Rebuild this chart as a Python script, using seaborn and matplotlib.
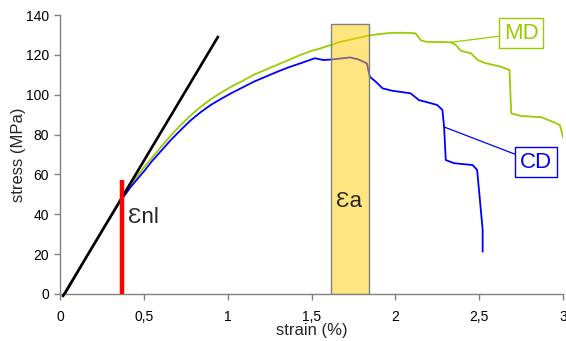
import matplotlib
matplotlib.use("Agg")
import matplotlib.pyplot as plt
from matplotlib.patches import Rectangle
import pandas as pd
import seaborn as sns

# Tensile curves: strain (%) vs stress (MPa)
md_strain = [0.03, 0.15, 0.25, 0.35, 0.42, 0.50, 0.55, 0.60, 0.66, 0.72, 0.78,
             0.84, 0.90, 0.96, 1.02, 1.09, 1.155, 1.225, 1.295, 1.365, 1.435, 1.50,
             1.555, 1.615, 1.675, 1.75, 1.83, 1.90, 1.97, 2.03, 2.08, 2.12, 2.15,
             2.18, 2.33, 2.36, 2.39, 2.45, 2.49, 2.53, 2.63, 2.68, 2.69, 2.75,
             2.87, 2.95, 2.98, 3.00]
md_stress = [0.0, 17.4, 31.4, 45.4, 54.5, 63.5, 68.5, 73.5, 79.5, 84.8, 89.7,
             94.0, 97.8, 101.0, 104.0, 107.0, 110.0, 112.5, 115.0, 117.5, 120.0, 122.0,
             123.3, 125.0, 126.6, 128.0, 129.5, 130.4, 131.0, 131.1, 131.0, 130.8, 127.4,
             126.6, 126.3, 125.0, 122.0, 120.8, 117.4, 116.0, 114.0, 112.4, 90.7, 89.3,
             88.7, 86.0, 84.8, 78.6]

cd_strain = [0.03, 0.15, 0.25, 0.35, 0.42, 0.50, 0.55, 0.60, 0.66, 0.72, 0.78,
             0.84, 0.90, 0.96, 1.02, 1.09, 1.155, 1.225, 1.295, 1.365, 1.435, 1.52,
             1.57, 1.61, 1.73, 1.78, 1.83, 1.847, 1.883, 1.923, 1.98, 2.09, 2.14,
             2.19, 2.25, 2.28, 2.29, 2.30, 2.35, 2.46, 2.487, 2.50, 2.52, 2.52]
cd_stress = [0.0, 17.4, 31.4, 45.4, 53.5, 61.5, 66.8, 71.5, 77.2, 82.3, 87.2,
             91.3, 94.9, 97.9, 100.7, 103.7, 106.5, 109.0, 111.5, 113.8, 115.8, 118.3,
             117.4, 117.6, 118.7, 117.7, 115.7, 109.0, 106.5, 103.2, 102.0, 100.7, 97.3,
             96.2, 94.8, 92.3, 83.9, 67.2, 65.6, 64.7, 62.2, 50.5, 32.1, 21.2]

# Linear elastic fit
fit_strain = [0.015, 0.945]
fit_stress = [-1.5, 129.5]

# Onset of non-linearity and the analysed strain window
eps_nl = 0.372
eps_nl_top = 57.0
eps_a_range = (1.618, 1.843)
eps_a_top = 135.3

x_ticks = [0, 0.5, 1, 1.5, 2, 2.5, 3]
x_tick_labels = ["0", "0,5", "1", "1,5", "2", "2,5", "3"]
y_ticks = [0, 20, 40, 60, 80, 100, 120, 140]

MD_COLOR = "#99CC00"
CD_COLOR = "#0000FF"

sns.set_style("white")
plt.rcParams["font.family"] = ["Liberation Sans", "DejaVu Sans"]

fig = plt.figure(figsize=(5.66, 3.41), dpi=100)
ax = fig.add_axes([0.106, 0.138, 0.889, 0.818])

md = pd.DataFrame({"strain": md_strain, "stress": md_stress})
cd = pd.DataFrame({"strain": cd_strain, "stress": cd_stress})

sns.lineplot(data=md, x="strain", y="stress", sort=False, estimator=None,
             color=MD_COLOR, lw=1.3, ax=ax, zorder=3)
sns.lineplot(data=cd, x="strain", y="stress", sort=False, estimator=None,
             color=CD_COLOR, lw=1.3, ax=ax, zorder=3)
ax.plot(fit_strain, fit_stress, color="black", lw=1.9, zorder=4, clip_on=False,
        solid_capstyle="butt")

ax.plot([eps_nl, eps_nl], [0, eps_nl_top], color="#FF0000", lw=3.2, zorder=5,
        solid_capstyle="butt")

ax.add_patch(Rectangle((eps_a_range[0], 0), eps_a_range[1] - eps_a_range[0], eps_a_top,
                       facecolor=(1.0, 0.8, 0.0, 0.5), edgecolor="#808080", lw=1.0,
                       zorder=6))

ax.text(0.405, 35.4, "Ɛnl", fontsize=16, va="baseline", ha="left", zorder=7)
ax.text(1.648, 43.5, "Ɛa", fontsize=16, va="baseline", ha="left", zorder=7)

ax.annotate("MD", xy=(2.331, 126.3), xytext=(2.75, 130.8), fontsize=16,
            color=MD_COLOR, ha="center", va="center", zorder=8,
            bbox=dict(boxstyle="square,pad=0.2", fc="white", ec=MD_COLOR, lw=1.0),
            arrowprops=dict(arrowstyle="-", color=MD_COLOR, lw=0.9,
                            shrinkA=0, shrinkB=0))
ax.annotate("CD", xy=(2.287, 83.9), xytext=(2.838, 66.1), fontsize=16,
            color=CD_COLOR, ha="center", va="center", zorder=8,
            bbox=dict(boxstyle="square,pad=0.2", fc="white", ec=CD_COLOR, lw=1.0),
            arrowprops=dict(arrowstyle="-", color=CD_COLOR, lw=0.9,
                            shrinkA=0, shrinkB=0))

ax.set_xlim(0, 3)
ax.set_ylim(0, 140)
ax.set_xticks(x_ticks)
ax.set_xticklabels(x_tick_labels)
ax.set_yticks(y_ticks)
ax.set_xlabel("strain (%)", fontsize=12, labelpad=-1)
ax.set_ylabel("stress (MPa)", fontsize=12, labelpad=0)

for side in ("top", "right"):
    ax.spines[side].set_visible(False)
for side in ("left", "bottom"):
    ax.spines[side].set_color("#808080")
    ax.spines[side].set_linewidth(1.0)
ax.tick_params(axis="both", direction="out", length=4.3, width=1.0, color="#808080",
               labelsize=10, labelcolor="black")
ax.tick_params(axis="x", bottom=True, pad=7.5)
ax.tick_params(axis="y", left=True, pad=3.5)

fig.savefig("out.png", dpi=100)
